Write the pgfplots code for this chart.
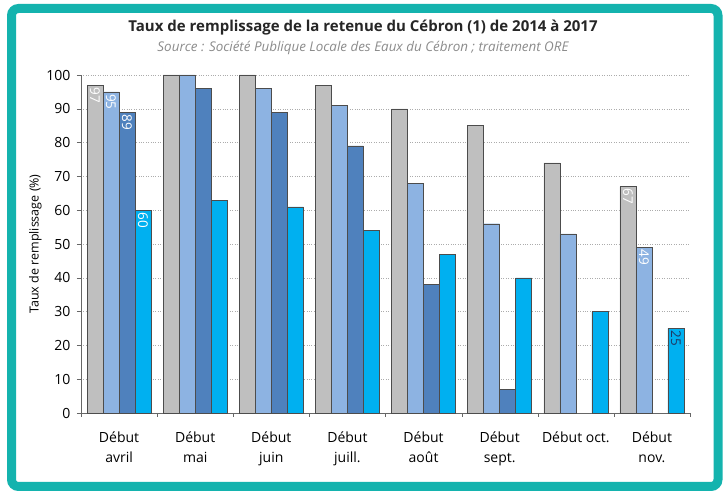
\documentclass[border=0pt]{standalone}
\usepackage{fontspec}
\setmainfont{Open Sans}
\usepackage{pgfplots}
\pgfplotsset{compat=1.18}
\usepackage{pgfplotstable}
\definecolor{frame}{HTML}{14B3AE}
\definecolor{cgray}{HTML}{BFBFBF}
\definecolor{clight}{HTML}{8DB3E2}
\definecolor{cmed}{HTML}{4F81BD}
\definecolor{ccyan}{HTML}{00B0F0}
\definecolor{navy}{HTML}{1F3864}
\definecolor{srcgray}{HTML}{8C8C8C}

\pgfplotstableread{
x y lab
0 97 97
1 100 {}
2 100 {}
3 97 {}
4 90 {}
5 85 {}
6 74 {}
7 67 67
}\sA
\pgfplotstableread{
x y lab
0 95 95
1 100 {}
2 96 {}
3 91 {}
4 68 {}
5 56 {}
6 53 {}
7 49 49
}\sB
\pgfplotstableread{
x y lab
0 89 89
1 96 {}
2 89 {}
3 79 {}
4 38 {}
5 7 {}
}\sC
\pgfplotstableread{
x y lab
0 60 60
1 63 {}
2 61 {}
3 54 {}
4 47 {}
5 40 {}
6 30 {}
7 25 {\textcolor{navy}{25}}
}\sD

\begin{document}
\begin{tikzpicture}[x=1pt,y=1pt]
\useasboundingbox (0,0) rectangle (726,495);
\fill[white] (0,0) rectangle (726,495);
\draw[line width=9pt, frame, rounded corners=7pt] (11.5,8.5) rectangle (718,486.5);
\node[font=\fontsize{15}{17}\selectfont\bfseries, text=black!85] at (363,467) {Taux de remplissage de la retenue du Cébron (1) de 2014 à 2017};
\node[font=\fontsize{13.4}{15}\selectfont\itshape, text=srcgray] at (363,447) {Source : Société Publique Locale des Eaux du Cébron ; traitement ORE};
\begin{axis}[
  at={(81pt,82pt)}, anchor=south west,
  scale only axis, width=609pt, height=338pt,
  xmin=-0.5, xmax=7.5, ymin=0, ymax=100,
  ybar=0pt, bar width=16pt,
  ytick={0,10,...,100},
  ymajorgrids, major grid style={dotted, gray!65},
  axis x line*=bottom, axis y line*=left,
  axis line style={gray!80!black},
  xtick={-0.5,0.5,...,7.5}, xticklabels={},
  extra x ticks={0,...,7},
  extra x tick labels={{Début\\avril},{Début\\mai},{Début\\juin},{Début\\juill.},{Début\\août},{Début\\sept.},{Début oct.},{Début\\nov.}},
  extra x tick style={major tick length=0pt, grid=none, xticklabel style={align=center, yshift=-15pt, font=\fontsize{14}{20}\selectfont}},
  x tick style={gray!80!black},
  y tick style={gray!80!black},
  tick align=outside, major tick length=4pt,
  yticklabel style={font=\fontsize{14}{16}\selectfont, xshift=-3pt},
  /pgf/number format/assume math mode=true,
  ylabel={Taux de remplissage (\%)},
  ylabel style={font=\fontsize{12.5}{14}\selectfont, at={(axis description cs:-0.075,0.5)}, anchor=center},
  nodes near coords,
  point meta=explicit symbolic,
  every node near coord/.append style={rotate=-90, anchor=west, font=\fontsize{13.5}{14}\selectfont, text=white, inner sep=2pt},
  clip=false,
]
\addplot[fill=cgray, draw=black!70] table[x=x,y=y,meta=lab]{\sA};
\addplot[fill=clight, draw=black!70] table[x=x,y=y,meta=lab]{\sB};
\addplot[fill=cmed, draw=black!70] table[x=x,y=y,meta=lab]{\sC};
\addplot[fill=ccyan, draw=black!70] table[x=x,y=y,meta=lab]{\sD};
\end{axis}
\end{tikzpicture}
\end{document}
